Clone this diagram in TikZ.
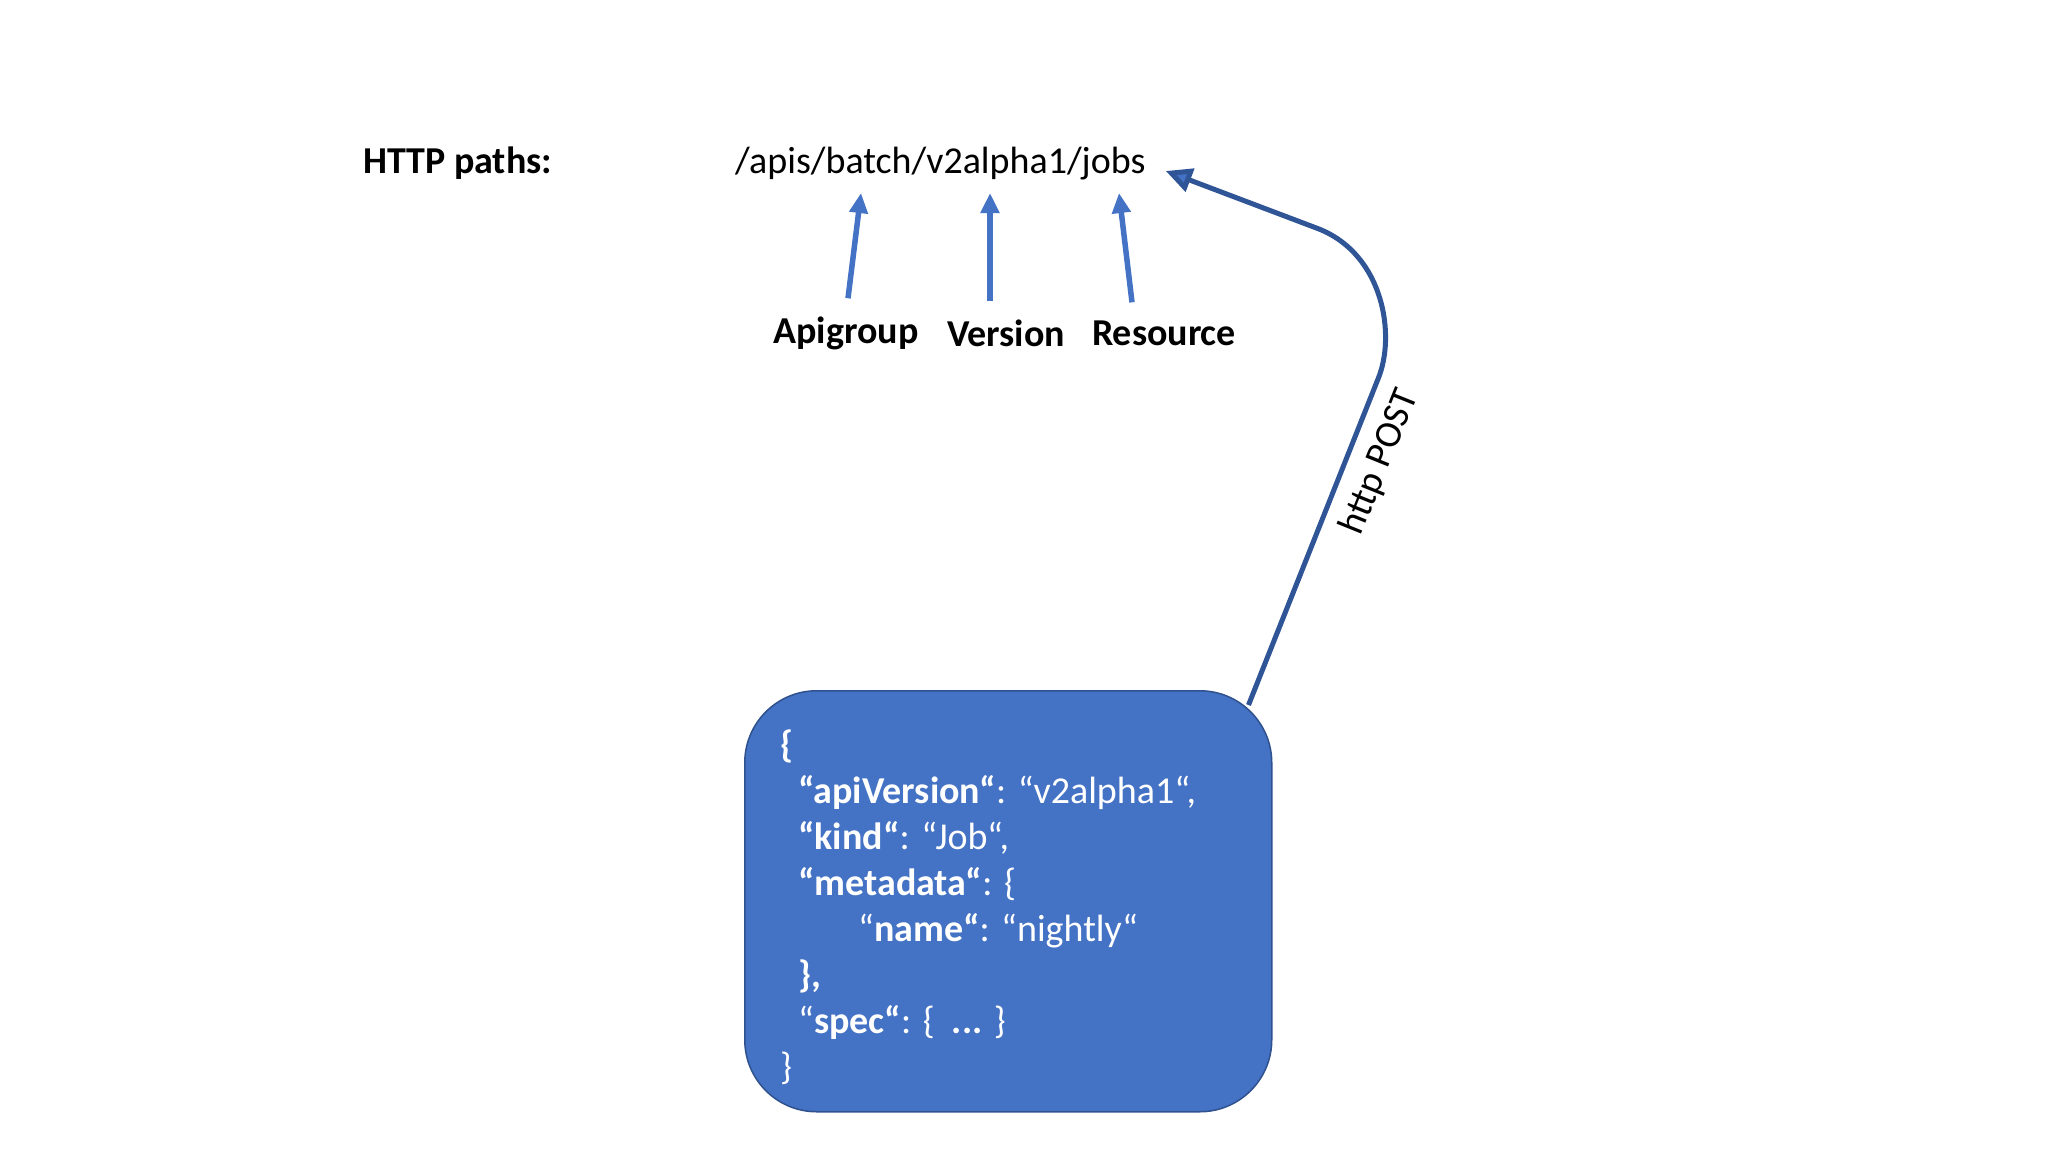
\documentclass[tikz,border=0pt]{standalone}
\usepackage{fontspec}
\setmainfont{Carlito}
\usetikzlibrary{arrows.meta,calc}
\definecolor{accent}{HTML}{4472C4}
\definecolor{darkblue}{HTML}{2F5597}
\definecolor{boxedge}{HTML}{2F528F}
\begin{document}
\begin{tikzpicture}[x=1pt,y=-1pt,
  every node/.style={inner sep=0pt,font=\fontsize{38}{46}\selectfont},
  lbl/.style={font=\fontsize{38}{46}\selectfont\bfseries},
  partarrow/.style={draw=accent,line width=5.5pt,-{Triangle[length=20pt,width=18pt]}},
  postarrow/.style={draw=darkblue,line width=5pt,-{Triangle[length=26pt,width=24pt,fill=accent]}},
  jsonbox/.style={fill=accent,draw=boxedge,line width=1.5pt,rounded corners=72pt}]
\useasboundingbox (0,0) rectangle (2048,1152);
\fill[white] (0,0) rectangle (2048,1152);
% headings
\node[lbl,anchor=west] (http) at (363,163) {HTTP paths:};
\node[anchor=west] (pathtxt) at (735,164) {/apis/batch/v2alpha1/jobs};
% part labels
\node[lbl] (apigroup) at (846,333) {Apigroup};
\node[lbl] (version) at (1006,333) {Version};
\node[lbl] (resource) at (1164,333) {Resource};
% arrows to path parts
\coordinate (tipA) at (861,193);
\coordinate (tipV) at (990,193);
\coordinate (tipR) at (1119,193);
\draw[partarrow] ($(apigroup.north)+(2,-18)$) -- (tipA);
\draw[partarrow] ($(version.north)+(-16,-18)$) -- (tipV);
\draw[partarrow] ($(resource.north)+(-32,-18)$) -- (tipR);
% json box
\node[jsonbox,minimum width=527pt,minimum height=421pt,anchor=north west] (json) at (744,690) {};
\node[anchor=north west,text=white,align=left] (jsontext) at (780,730) {%
\textbf{\{}\\
\hspace*{18pt}\textbf{“apiVersion“}: “v2alpha1“,\\
\hspace*{18pt}\textbf{“kind“}: “Job“,\\
\hspace*{18pt}\textbf{“metadata“}: \{\\
\hspace*{78pt}“\textbf{name“}: “nightly“\\
\hspace*{18pt}\textbf{\},}\\
\hspace*{18pt}“\textbf{spec“}: \{ \ \textbf{...} \}\\
\}};
% http post connector
\coordinate (postStart) at ($(json.north east)+(-24,15)$);
\draw[postarrow] (postStart) -- (1378,379)
  .. controls (1396,336) and (1384,255) .. (1319,229)
  -- ($(pathtxt.east)+(20,7)$);
\node[rotate=68] (postlbl) at (1380,462) {http POST};
\end{tikzpicture}
\end{document}
